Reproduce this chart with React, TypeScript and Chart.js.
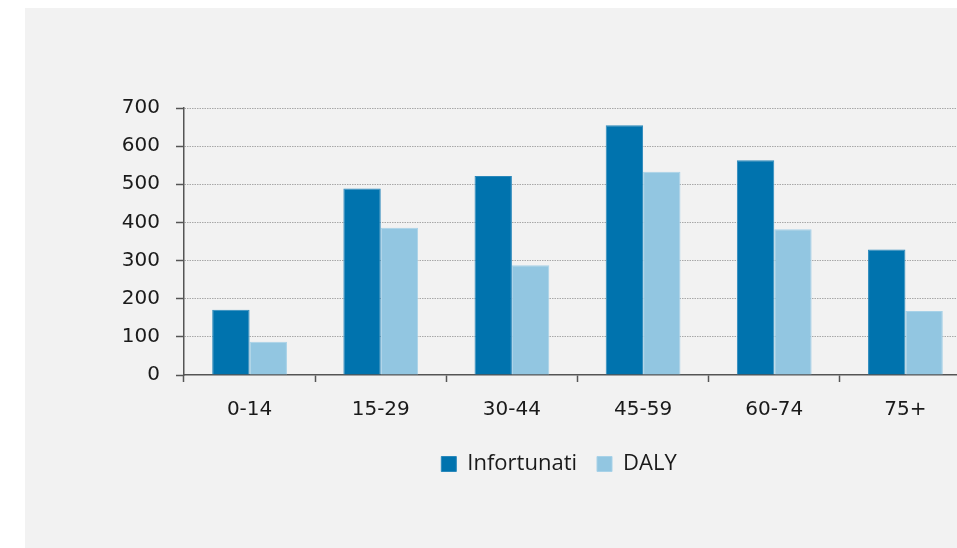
import React, { useEffect, useRef } from "react";
import { Chart, registerables } from "chart.js";

Chart.register(...registerables);

const categories = ["0-14", "15-29", "30-44", "45-59", "60-74", "75+"];
const infortunati = [171, 489, 522, 655, 563, 329];
const daly = [87, 386, 288, 533, 382, 168];
const seriesNames = ["Infortunati", "DALY"];
const yTicks = { min: 0, max: 700, step: 100 };

const DARK = "#0073ae";
const LIGHT = "#92c6e1";

// widen the y-axis label clip area to the left so labels can overhang the padding
const labelOverhang = {
  id: "labelOverhang",
  afterLayout(chart: any) {
    const y = chart.scales.y;
    if (y) y.left = y.left - 60;
  },
};

export default function App() {
  const ref = useRef<HTMLCanvasElement | null>(null);

  useEffect(() => {
    if (!ref.current) return;
    const chart = new Chart(ref.current, {
      type: "bar",
      data: {
        labels: categories,
        datasets: [
          {
            label: seriesNames[0],
            data: infortunati,
            backgroundColor: DARK,
            borderColor: "#2a88bb",
            borderWidth: 1,
            categoryPercentage: 0.57,
            barPercentage: 1,
          },
          {
            label: seriesNames[1],
            data: daly,
            backgroundColor: LIGHT,
            borderColor: "#a8d2e8",
            borderWidth: 1,
            categoryPercentage: 0.57,
            barPercentage: 1,
          },
        ],
      },
      plugins: [labelOverhang],
      options: {
        responsive: false,
        animation: false,
        devicePixelRatio: 1,
        layout: { padding: { left: 122, right: 4, top: 100, bottom: 63 } },
        plugins: {
          tooltip: { enabled: false },
          legend: {
            position: "bottom",
            labels: {
              boxWidth: 15,
              boxHeight: 15,
              padding: 20,
              color: "#1a1a1a",
              font: { family: "'Open Sans', sans-serif", size: 22 },
            },
          },
        },
        scales: {
          x: {
            grid: {
              drawOnChartArea: false,
              drawTicks: true,
              tickLength: 7,
              tickColor: "#555555",
              tickWidth: 1.5,
            },
            border: { color: "#555555", width: 1.5 },
            ticks: {
              color: "#1a1a1a",
              padding: 16,
              font: { family: "'DejaVu Sans', Verdana, sans-serif", size: 20 },
            },
            afterFit: (s: any) => {
              s.height = 58;
            },
          },
          y: {
            min: yTicks.min,
            max: yTicks.max,
            ticks: {
              stepSize: yTicks.step,
              color: "#1a1a1a",
              padding: 16,
              font: { family: "'DejaVu Sans', Verdana, sans-serif", size: 20 },
            },
            grid: {
              color: (c: any) => (c.tick && c.tick.value === 0 ? "rgba(0,0,0,0)" : "#a8a8a8"),
              lineWidth: 1,
              drawTicks: true,
              tickLength: 8,
              tickColor: "#555555",
              tickBorderDash: [],
              tickWidth: 1.5,
            },
            border: { color: "#555555", width: 1.5, dash: [1.5, 1] },
            afterFit: (s: any) => {
              s.width = 37;
            },
          },
        },
      },
    });
    return () => chart.destroy();
  }, []);

  return (
    <div
      style={{
        position: "absolute",
        left: 25,
        top: 8,
        width: 932,
        height: 540,
        background: "#f2f2f2",
        overflow: "hidden",
      }}
    >
      <canvas ref={ref} width={950} height={540} style={{ display: "block" }} />
    </div>
  );
}
